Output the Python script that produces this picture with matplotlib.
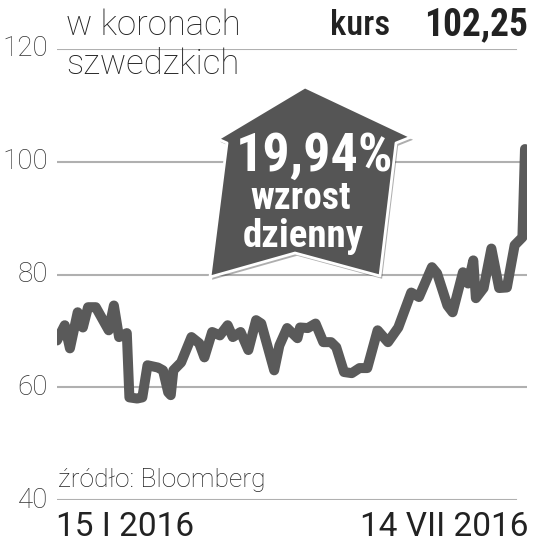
import matplotlib.pyplot as plt
from matplotlib.patches import Polygon
import matplotlib.patheffects as pe

# Kurs akcji (w koronach szwedzkich), dni liczone od 15 I 2016
dni = [0, 3, 5, 8, 10, 12, 15, 20, 22, 24,
       27, 28, 31, 33, 35, 39, 41, 43, 44, 45,
       48, 52, 55, 57, 60, 63, 66, 68, 71, 74,
       77, 79, 84, 86, 89, 93, 94, 97, 100, 103,
       106, 108, 111, 114, 117, 120, 124, 128, 132, 137,
       140, 145, 147, 151, 153, 157, 159, 161, 162, 165,
       168, 171, 174, 177, 180, 181]
kurs = [68.3, 71, 66.9, 73.3, 70.6, 74.2, 74.2, 70.1, 74.5, 68.9,
        69.6, 58.2, 58, 58.2, 63.9, 63.5, 63, 59.1, 58.6, 63,
        64.4, 68.9, 67.8, 65.3, 69.8, 69.2, 71, 68.9, 69.8, 66.6,
        71.9, 71.3, 63, 67.4, 70.5, 68.7, 70.6, 70.5, 71.3, 68,
        68, 67.1, 62.7, 62.5, 63.4, 63.4, 70.1, 68, 70.6, 76.8,
        76, 81.3, 80.2, 74.5, 73.3, 80.4, 78.4, 82.5, 75.8, 77.6,
        84.6, 77.6, 77.7, 85.2, 86.6, 102.25]
poziomy = [40, 60, 80, 100, 120]
daty = ['15 I 2016', '14 VII 2016']

W, H = 533, 551
LEKKI = ['Roboto', 'DejaVu Sans']
WASKI = ['Roboto Condensed', 'Liberation Sans Narrow', 'Roboto', 'DejaVu Sans']


def px(x, y):
    # piksele (od lewego gornego rogu) -> ulamki figury
    return x / W, 1 - y / H


fig = plt.figure(figsize=(W / 100, H / 100), dpi=100)
x0, y1 = px(57, 49)
x1, y0 = px(527, 500)
ax = fig.add_axes([x0, y0, x1 - x0, y1 - y0])
ax.set_xlim(0, 181 * 470 / 468)
ax.set_ylim(40, 120)
ax.axis('off')

# linie siatki
for p in poziomy:
    koniec = 0.977 if p in (40, 120) else 1.0
    ax.axhline(p, xmin=0, xmax=koniec, color='#b0b0b0', lw=1.5, zorder=1)
    ax.text(-3.5, p, str(p), ha='right', va='center', fontsize=20,
            color='#333333', family=LEKKI, fontweight='light')

# linia kursu
ax.plot(dni, kurs, color='#5a5a5a', lw=7.2, solid_joinstyle='round',
        solid_capstyle='round', zorder=3)

# opisy
fig.text(*px(66, 35), 'w koronach', fontsize=25, color='#222222',
         family=LEKKI, fontweight='light', va='baseline')
fig.text(*px(66, 74), 'szwedzkich', fontsize=25, color='#222222',
         family=LEKKI, fontweight='light', va='baseline')
fig.text(*px(390, 35), 'kurs', fontsize=25, color='#222222',
         family=WASKI, fontweight='medium', ha='right', va='baseline')
fig.text(*px(528, 35), '102,25', fontsize=27, color='#222222',
         family=WASKI, fontweight='bold', ha='right', va='baseline')

fig.text(*px(58, 487), 'źródło: Bloomberg', fontsize=19, color='#222222',
         family=LEKKI, fontweight='light', va='baseline')
fig.text(*px(56, 536), daty[0], fontsize=24, color='#222222',
         family=LEKKI, va='baseline')
fig.text(*px(528, 536), daty[1], fontsize=24, color='#222222',
         family=LEKKI, va='baseline', ha='right')

# strzalka-domek
wierzcholki = [(305, 87), (411, 137), (396, 143), (380, 276), (295, 253),
               (210, 277), (227, 143), (218, 139)]
domek = Polygon([px(x, y) for x, y in wierzcholki], closed=True,
                transform=fig.transFigure, facecolor='#555555',
                edgecolor='white', lw=2, joinstyle='round', zorder=5)
domek.set_path_effects([pe.SimplePatchShadow(offset=(1.5, -2), alpha=0.35),
                        pe.Normal()])
fig.add_artist(domek)

fig.text(*px(315, 156), '19,94%', fontsize=39, color='white',
         family=WASKI, fontweight='bold', ha='center', va='center', zorder=6)
fig.text(*px(301, 209), 'wzrost', fontsize=27, color='white',
         family=WASKI, fontweight='bold', ha='center', va='baseline', zorder=6)
fig.text(*px(303, 247), 'dzienny', fontsize=28, color='white',
         family=WASKI, fontweight='bold', ha='center', va='baseline', zorder=6)

fig.savefig('out.png', dpi=100)
plt.close(fig)
